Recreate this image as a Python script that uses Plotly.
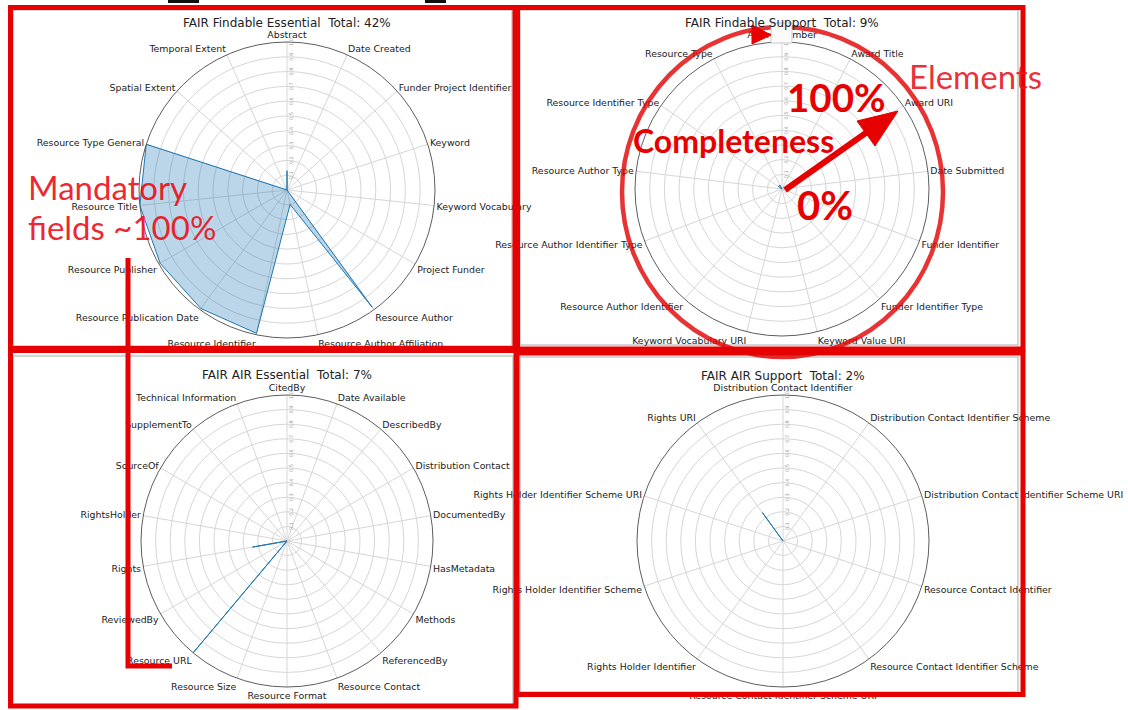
import plotly.graph_objects as go

W, H = 1128, 710

# ---------------- data ----------------
fe_labels = ["Abstract", "Date Created", "Funder Project Identifier", "Keyword",
             "Keyword Vocabulary", "Project Funder", "Resource Author",
             "Resource Author Affiliation", "Resource Identifier",
             "Resource Publication Date", "Resource Publisher", "Resource Title",
             "Resource Type General", "Spatial Extent", "Temporal Extent"]
fe_values = [0.13, 0.0, 0.0, 0.0, 0.0, 0.0, 0.98, 0.10, 0.99, 0.99, 0.99, 1.0, 1.0, 0.0, 0.0]

fs_labels = ["Award Number", "Award Title", "Award URI", "Date Submitted",
             "Funder Identifier", "Funder Identifier Type", "Keyword Value URI",
             "Keyword Vocabulary URI", "Resource Author Identifier",
             "Resource Author Identifier Type", "Resource Author Type",
             "Resource Identifier Type", "Resource Type"]
fs_values = [0.0, 0.0, 0.0, 0.0, 0.0, 0.0, 0.0, 0.0, 0.0, 0.0, 0.0, 0.03, 0.03]

ae_labels = ["CitedBy", "Date Available", "DescribedBy", "Distribution Contact",
             "DocumentedBy", "HasMetadata", "Methods", "ReferencedBy",
             "Resource Contact", "Resource Format", "Resource Size", "Resource URL",
             "ReviewedBy", "Rights", "RightsHolder", "SourceOf", "SupplementTo",
             "Technical Information"]
ae_values = [0.0, 0.0, 0.0, 0.0, 0.0, 0.0, 0.0, 0.0, 0.0, 0.0, 0.0, 1.0,
             0.0, 0.24, 0.0, 0.0, 0.0, 0.0]

as_labels = ["Distribution Contact Identifier", "Distribution Contact Identifier Scheme",
             "Distribution Contact Identifier Scheme URI", "Resource Contact Identifier",
             "Resource Contact Identifier Scheme", "Resource Contact Identifier Scheme URI",
             "Rights Holder Identifier", "Rights Holder Identifier Scheme",
             "Rights Holder Identifier Scheme URI", "Rights URI"]
as_values = [0.0, 0.0, 0.0, 0.0, 0.0, 0.0, 0.0, 0.0, 0.0, 0.24]

titles = ["FAIR Findable Essential  Total: 42%", "FAIR Findable Support  Total: 9%",
          "FAIR AIR Essential  Total: 7%", "FAIR AIR Support  Total: 2%"]

radial_ticks = [0.1, 0.2, 0.3, 0.4, 0.5, 0.6, 0.7, 0.8, 0.9, 1.0]

# ---------------- helpers ----------------
def px(x):
    return x / W

def py(y):
    return 1 - y / H

RED = "#e60000"
LABEL_FONT = dict(family="DejaVu Sans", size=9.4, color="#222222")

panels = [
    dict(key="polar", labels=fe_labels, values=fe_values, title=titles[0], cx=287, cy=190, r=148, ty=23),
    dict(key="polar2", labels=fs_labels, values=fs_values, title=titles[1], cx=782, cy=189, r=147, ty=23),
    dict(key="polar3", labels=ae_labels, values=ae_values, title=titles[2], cx=287, cy=541, r=146, ty=375),
    dict(key="polar4", labels=as_labels, values=as_values, title=titles[3], cx=783, cy=541, r=146, ty=376),
]

fig = go.Figure()
layout_polars = {}
annotations = []

for p in panels:
    fig.add_trace(go.Scatterpolar(
        r=p["values"] + [p["values"][0]],
        theta=p["labels"] + [p["labels"][0]],
        mode="lines",
        fill="toself",
        fillcolor="rgba(31,119,180,0.3)",
        line=dict(color="#1f77b4", width=1),
        subplot=p["key"],
        showlegend=False,
        hoverinfo="skip",
    ))
    cx, cy, r = p["cx"], p["cy"], p["r"]
    layout_polars[p["key"]] = dict(
        domain=dict(x=[px(cx - r), px(cx + r)], y=[py(cy + r), py(cy - r)]),
        bgcolor="white",
        angularaxis=dict(
            type="category", categoryarray=p["labels"],
            direction="clockwise", rotation=90,
            tickfont=LABEL_FONT, ticks="",
            showline=True, linecolor="#333333", linewidth=0.8,
            gridcolor="#d6d6d6", gridwidth=0.8,
        ),
        radialaxis=dict(
            range=[0, 1], tickvals=radial_ticks,
            ticktext=[f"{v:.1f}" for v in radial_ticks],
            tickfont=dict(family="DejaVu Sans", size=5, color="#9a9a9a"),
            tickangle=0,
            angle=90, ticks="", showline=False,
            gridcolor="#d6d6d6", gridwidth=0.8,
        ),
    )
    annotations.append(dict(
        x=px(cx), y=py(p["ty"]), xref="paper", yref="paper",
        text=p["title"], showarrow=False,
        font=dict(family="DejaVu Sans", size=12, color="#222222"),
        xanchor="center", yanchor="middle",
    ))

# ---------------- overlay annotations (texts) ----------------
def txt(x, y, s, size, bold=False, color=RED, xanchor="center", family="Lato"):
    return dict(x=px(x), y=py(y), xref="paper", yref="paper",
                text=f"<b>{s}</b>" if bold else s, showarrow=False,
                font=dict(family=family, size=size, color=color),
                xanchor=xanchor, yanchor="middle")

annotations += [
    txt(975, 76, "Elements", 33, color="rgba(232,20,28,0.9)"),
    txt(836, 97, "100%", 38.5, bold=True),
    txt(733, 141, "Completeness", 32, bold=True),
    txt(825, 205, "0%", 40, bold=True),
    txt(26, 187, "Mandatory", 33, color="rgba(235,10,20,0.9)", xanchor="left"),
    txt(26, 227, "fields ~100%", 33, color="rgba(235,10,20,0.9)", xanchor="left"),
]

# ---------------- shapes ----------------
def rect(x0, y0, x1, y1, color, width, layer="above", fill=None):
    return dict(type="rect", xref="paper", yref="paper",
                x0=px(x0), y0=py(y0), x1=px(x1), y1=py(y1),
                line=dict(color=color, width=width),
                fillcolor=fill if fill else "rgba(0,0,0,0)", layer=layer)

def path(pts, color, width, closed=False, fill=None):
    d = "M " + " L ".join(f"{px(x)},{py(y)}" for x, y in pts)
    if closed:
        d += " Z"
    return dict(type="path", xref="paper", yref="paper", path=d,
                line=dict(color=color, width=width),
                fillcolor=fill if fill else "rgba(0,0,0,0)", layer="above")

shapes = [
    # light grey panel frames of the original figure
    rect(13, 10, 512, 346, "#c8c8c8", 1.5, layer="below"),
    rect(520, 10, 1018, 345, "#c8c8c8", 1.5, layer="below"),
    rect(13, 356, 513, 705, "#c8c8c8", 1.5, layer="below"),
    rect(520, 357, 1018, 692, "#c8c8c8", 1.5, layer="below"),
    # cut-off dark marks at the very top
    rect(168, 0, 199, 3, "#111111", 0, fill="#111111"),
    rect(425, 0, 446, 3, "#111111", 0, fill="#111111"),
    # red frames
    rect(10.5, 7.5, 515, 348.5, RED, 5),
    rect(517.5, 7.5, 1023, 349, RED, 5),
    rect(10.5, 350.5, 516, 706, RED, 5),
    rect(517, 353, 1023, 694.5, RED, 5),
    # red L bracket
    path([(128, 258), (128, 666), (172, 666)], RED, 5),
    # red circle around support chart
    dict(type="circle", xref="paper", yref="paper",
         x0=px(622), y0=py(357), x1=px(943), y1=py(27),
         line=dict(color="rgba(225,0,0,0.8)", width=4.5), layer="above"),
    # white square covering the top label
    rect(771, 23, 792, 43, "#bbbbbb", 0.8, fill="#fbfbfb"),
    # circle arrowhead
    path([(752, 25), (771, 35), (752, 44)], RED, 1, closed=True, fill=RED),
    # arrow shaft and head
    path([(785, 190), (870, 130)], RED, 6),
    path([(898, 111), (875, 146), (857, 121)], RED, 1, closed=True, fill=RED),
]

fig.update_layout(
    width=W, height=H, autosize=False,
    margin=dict(l=0, r=0, t=0, b=0),
    paper_bgcolor="white", plot_bgcolor="white",
    showlegend=False,
    annotations=annotations,
    shapes=shapes,
    **layout_polars,
)

fig.write_html("out.html")
